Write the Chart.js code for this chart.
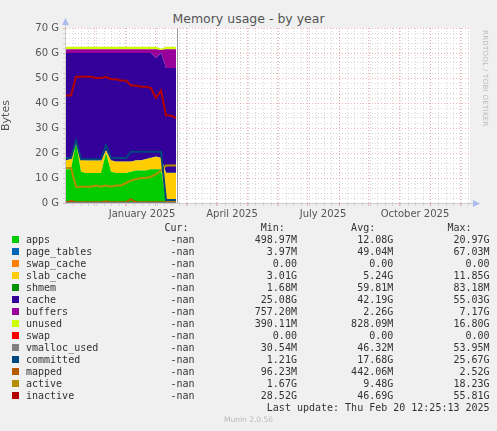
<!DOCTYPE html>
<html><head><meta charset="utf-8">
<script src="https://cdn.jsdelivr.net/npm/chart.js@4"></script>
<style>
body{margin:0;background:#f0f0f0;width:497px;height:431px;position:relative;overflow:hidden;font-family:"DejaVu Sans",sans-serif}
#t{position:absolute;top:11px;left:0;width:497px;text-align:center;font-size:12.5px;color:#555}
#c{position:absolute;left:0;top:0}
#rr{position:absolute;left:481px;top:30px;writing-mode:vertical-rl;font-size:7px;color:#bbb;letter-spacing:0.3px}
#lg{position:absolute;left:12px;top:222px;font-family:"DejaVu Sans Mono",monospace;font-size:10px;color:#333;white-space:pre;line-height:12px}
.sq{display:inline-block;width:7px;height:7px;margin-right:7px;vertical-align:0px}
.sp{display:inline-block;width:14px}
#ft{position:absolute;top:415px;left:0;width:497px;text-align:center;font-size:7.5px;color:#bbb}
</style></head><body>
<div id="t">Memory usage - by year</div>
<div id="c"><canvas id="cv" width="497" height="225"></canvas></div>
<div id="rr">RRDTOOL / TOBI OETIKER</div>
<div id="lg"></div>
<div id="ft">Munin 2.0.56</div>
<script>
const xs=[0,5,10,15,20,25,30,35,40,45,50,55,60,65,70,75,80,85,90,95,100,105,110];
const apps=[13.5,13.5,24,12.5,12,12,12,12,20,12.5,12,12,12,12.5,13,13,13,13.5,13.5,13.5,0.5,0.5,0.5];
const pageTables=[0.05,0.05,0.05,0.05,0.05,0.05,0.05,0.05,0.05,0.05,0.05,0.05,0.05,0.05,0.05,0.05,0.05,0.05,0.05,0.05,0.05,0.05,0.05];
const swapCache=[0,0,0,0,0,0,0,0,0,0,0,0,0,0,0,0,0,0,0,0,0,0,0];
const slabCache=[3.5,4,1,5,5,5,5,5,1,4.5,4.5,4.5,4.5,4,4,4,4.5,4.5,5,4.5,11.5,11.5,11.5];
const shmem=[0.06,0.06,0.06,0.06,0.06,0.06,0.06,0.06,0.06,0.06,0.06,0.06,0.06,0.06,0.06,0.06,0.06,0.06,0.06,0.06,0.06,0.06,0.06];
const cache=[42.9,42.4,34.9,42.4,42.9,42.9,42.9,42.9,38.9,42.9,43.4,43.4,43.4,43.4,42.9,42.9,42.4,41.9,39.4,41.9,41.9,41.9,41.9];
const buffers=[1.5,1.5,1.5,1.5,1.5,1.5,1.5,1.5,1.5,1.5,1.5,1.5,1.5,1.5,1.5,1.5,1.5,1.5,3.5,1.2,7.5,7.5,7.5];
const unused=[1,1,1,1,1,1,1,1,1,1,1,1,1,1,1,1,1,1,1,0.5,1,1,1];
const swap=[0,0,0,0,0,0,0,0,0,0,0,0,0,0,0,0,0,0,0,0,0,0,0];
const vmalloc=[0.05,0.05,0.05,0.05,0.05,0.05,0.05,0.05,0.05,0.05,0.05,0.05,0.05,0.05,0.05,0.05,0.05,0.05,0.05,0.05,0.05,0.05,0.05];
const committed=[18,18,25,17.5,17.5,17.5,17.5,17.5,23,18,18,18,18,20.5,20.5,20.5,20.5,20.5,20.5,20.5,1.2,1.2,1.2];
const mapped=[0.3,0.8,0.3,0.3,0.3,0.3,0.3,0.3,0.6,0.3,0.3,0.3,0.3,1.5,0.3,0.3,0.3,0.3,0.3,0.3,0.3,0.3,0.3];
const active=[14,14,6.5,6.5,6.5,6.5,7,6.5,7,6.5,7,7,8,9,9.5,10,10,10.5,11.5,13,15,15,15];
const inactive=[43,43,50.5,50.5,50.5,50.5,50,50,50.5,49.5,49.5,49,49,47,47,46.5,46.5,46,42,45,35,35,34];
const monthLabels=[{v:76,t:"January 2025"},{v:166,t:"April 2025"},{v:257,t:"July 2025"},{v:349,t:"October 2025"}];
const monthLines=[28.8,59.2,89.6,120,150,181,211,241,273,302,333,364,394];
const legendRows=[["apps","#00cc00","-nan","498.97M","12.08G","20.97G"],["page_tables","#0066b3","-nan","3.97M","49.04M","67.03M"],["swap_cache","#ff8000","-nan","0.00","0.00","0.00"],["slab_cache","#ffcc00","-nan","3.01G","5.24G","11.85G"],["shmem","#008f00","-nan","1.68M","59.81M","83.18M"],["cache","#330099","-nan","25.08G","42.19G","55.03G"],["buffers","#990099","-nan","757.20M","2.26G","7.17G"],["unused","#ccff00","-nan","390.11M","828.09M","16.80G"],["swap","#ff0000","-nan","0.00","0.00","0.00"],["vmalloc_used","#808080","-nan","30.54M","46.32M","53.95M"],["committed","#00487d","-nan","1.21G","17.68G","25.67G"],["mapped","#b35a00","-nan","96.23M","442.06M","2.52G"],["active","#b38f00","-nan","1.67G","9.48G","18.23G"],["inactive","#b30000","-nan","28.52G","46.69G","55.81G"]];

const pts=a=>xs.map((x,i)=>({x:x,y:a[i]}));
const area=(l,d,c,first)=>({label:l,data:pts(d),backgroundColor:c,borderColor:c,borderWidth:0,fill:first?'origin':'-1',stack:'a',pointRadius:0,order:10,tension:0});
const line=(l,d,c)=>({label:l,data:pts(d),borderColor:c,borderWidth:2,fill:false,stack:l,pointRadius:0,order:1,tension:0});
const bg={id:'bg',beforeDraw(ch){const a=ch.chartArea,c=ch.ctx;c.save();c.fillStyle='#fff';c.fillRect(a.left,a.top,a.right-a.left,a.bottom-a.top);c.restore();},
afterDraw(ch){const a=ch.chartArea,c=ch.ctx;c.save();c.strokeStyle='#ccc';c.lineWidth=1;c.beginPath();c.moveTo(a.left,a.bottom+0.5);c.lineTo(a.right+6,a.bottom+0.5);c.moveTo(a.left-0.5,a.bottom);c.lineTo(a.left-0.5,a.top-6);c.stroke();
c.fillStyle='#aabbee';c.beginPath();c.moveTo(a.right+10,a.bottom+0.5);c.lineTo(a.right+3,a.bottom-3);c.lineTo(a.right+3,a.bottom+4);c.fill();
c.beginPath();c.moveTo(a.left-0.5,a.top-10);c.lineTo(a.left-4,a.top-3);c.lineTo(a.left+3,a.top-3);c.fill();
c.strokeStyle='#999';c.beginPath();const sx=ch.scales.x.getPixelForValue(111)+0.5;c.moveTo(sx,a.top);c.lineTo(sx,a.bottom);c.stroke();c.restore();}};
new Chart(document.getElementById('cv'),{type:'line',
data:{datasets:[area('apps',apps,'#00cc00',true),area('page_tables',pageTables,'#0066b3'),area('swap_cache',swapCache,'#ff8000'),area('slab_cache',slabCache,'#ffcc00'),area('shmem',shmem,'#008f00'),area('cache',cache,'#330099'),area('buffers',buffers,'#990099'),area('unused',unused,'#ccff00'),area('swap',swap,'#ff0000'),
line('vmalloc_used',vmalloc,'#808080'),line('committed',committed,'#00487d'),line('mapped',mapped,'#b35a00'),line('active',active,'#b38f00'),line('inactive',inactive,'#b30000')]},
options:{responsive:false,animation:false,layout:{padding:{top:28,right:27,left:0,bottom:0}},
plugins:{legend:{display:false},tooltip:{enabled:false}},
scales:{x:{type:'linear',min:0,max:404,
afterBuildTicks(s){const t=[];for(let v=7.6;v<404;v+=7.6)t.push({value:v,kind:'m'});monthLines.forEach(v=>t.push({value:v,kind:'M'}));monthLabels.forEach(o=>t.push({value:o.v,kind:'L',lab:o.t}));s.ticks=t;},
afterFit(s){s.height=22;},
ticks:{autoSkip:false,maxRotation:0,color:'#555',font:{size:10,family:'DejaVu Sans'},padding:2,callback:function(v,i,t){return t[i].kind==='L'?t[i].lab:'';}},
grid:{drawTicks:true,tickLength:3,color:c=>c.tick&&c.tick.kind==='M'?'rgba(230,120,120,0.55)':c.tick&&c.tick.kind==='L'?'rgba(0,0,0,0)':'rgba(190,190,190,0.6)',lineWidth:1},border:{display:false,dash:[1,2]}},
y:{stacked:true,min:0,max:70,afterBuildTicks(s){const t=[];for(let v=0;v<=70;v+=2)t.push({value:v});s.ticks=t;},afterFit(s){s.width=66;},
title:{display:true,text:'Bytes',color:'#555',font:{size:11,family:'DejaVu Sans'},padding:0},
ticks:{autoSkip:false,color:'#555',font:{size:10,family:'DejaVu Sans'},padding:4,callback:v=>v%10===0?v+' G':''},
grid:{tickLength:3,color:c=>c.tick&&c.tick.value%10===0?'rgba(230,120,120,0.55)':'rgba(190,190,190,0.6)'},border:{display:false,dash:[1,2]}}}},
plugins:[bg]});
const lg=document.getElementById('lg');
const pad=(s,n)=>s.padStart(n,' ');
let h='<span class="sp"></span>'+pad('Cur:',27)+pad('Min:',16)+pad('Avg:',15)+pad('Max:',16)+'\n';
legendRows.forEach(r=>{h+='<span class="sq" style="background:'+r[1]+'"></span>'+r[0].padEnd(20,' ')+pad(r[2],8)+pad(r[3],17)+pad(r[4],16)+pad(r[5],16)+'\n';});
h+='<span class="sp"></span>'+pad('Last update: Thu Feb 20 12:25:13 2025',77);
lg.innerHTML=h;
</script></body></html>
